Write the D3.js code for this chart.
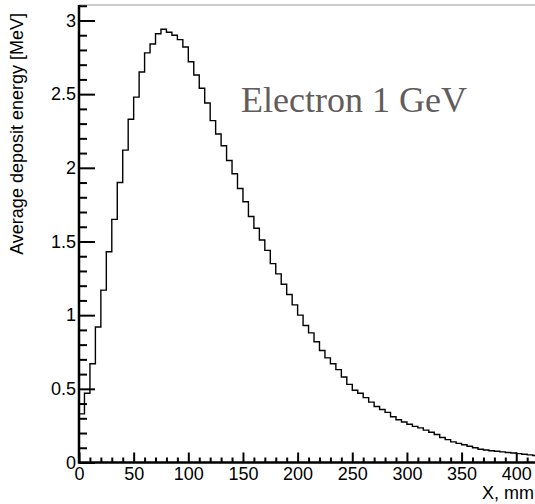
<!DOCTYPE html>
<html>
<head>
<meta charset="utf-8">
<script src="https://cdn.jsdelivr.net/npm/d3@7"></script>
<style>
  body { margin: 0; background: #fff; }
  svg { display: block; }
  text { font-family: "Liberation Sans", Arial, sans-serif; }
</style>
</head>
<body>
<svg id="canvas" width="535" height="504"></svg>
<script>
// histogram: 5 mm bins starting at 0
let binWidth = 5
let deposit = [
    0.33, 0.47, 0.67, 0.92, 1.17, 1.43, 1.65, 1.90, 2.12, 2.33,
    2.48, 2.65, 2.78, 2.84, 2.91, 2.94, 2.92, 2.90, 2.87, 2.82,
    2.72, 2.63, 2.54, 2.44, 2.32, 2.23, 2.15, 2.05, 1.96, 1.86,
    1.77, 1.67, 1.59, 1.51, 1.44, 1.35, 1.28, 1.21, 1.14, 1.07,
    1.00, 0.93, 0.88, 0.82, 0.76, 0.71, 0.67, 0.63, 0.58, 0.53,
    0.49, 0.47, 0.44, 0.41, 0.38, 0.36, 0.34, 0.31, 0.29, 0.275,
    0.26, 0.245, 0.235, 0.22, 0.205, 0.19, 0.17, 0.155, 0.14, 0.13,
    0.12, 0.11, 0.10, 0.09, 0.085, 0.08, 0.076, 0.072, 0.068, 0.064,
    0.06, 0.056, 0.052, 0.048
]
let xTicks = [0, 50, 100, 150, 200, 250, 300, 350, 400]
let yTicks = [0, 0.5, 1, 1.5, 2, 2.5, 3]
let xTitle = 'X, mm'
let yTitle = 'Average deposit energy [MeV]'
let label = 'Electron 1 GeV'

let canvas = d3.select('#canvas')

let x = d3.scaleLinear().domain([0, 420]).range([79, 538.1])
let y = d3.scaleLinear().domain([0, 3.105]).range([462.5, 5])

// frame top
canvas.append('line')
    .attr('x1', x(0)).attr('x2', 535)
    .attr('y1', y(3.105)).attr('y2', y(3.105))
    .attr('stroke', '#999').attr('stroke-width', 1)

// histogram as steps
let points = deposit.map((v, i) => [i * binWidth, v])
points.push([deposit.length * binWidth, deposit[deposit.length - 1]])
let line = d3.line()
    .x(d => x(d[0]))
    .y(d => y(d[1]))
    .curve(d3.curveStepAfter)
canvas.append('path')
    .datum(points)
    .attr('d', line)
    .attr('fill', 'none')
    .attr('stroke', '#000')
    .attr('stroke-width', 1.4)

// x axis
let xMinor = d3.range(0, 421, 10).filter(v => v % 50 !== 0)
canvas.append('g')
    .attr('transform', 'translate(0,' + y(0) + ')')
    .call(d3.axisBottom(x).tickValues(xMinor).tickSizeInner(-5).tickSizeOuter(0).tickFormat(''))
canvas.append('g')
    .attr('class', 'xaxis')
    .attr('transform', 'translate(0,' + y(0) + ')')
    .call(d3.axisBottom(x).tickValues(xTicks).tickSizeInner(-10).tickSizeOuter(0).tickPadding(5))

// y axis
let yMinor = d3.range(0, 3.101, 0.1).filter(v => Math.abs(v * 2 - Math.round(v * 2)) > 1e-6)
canvas.append('g')
    .attr('transform', 'translate(' + x(0) + ',0)')
    .call(d3.axisLeft(y).tickValues(yMinor).tickSizeInner(-8).tickSizeOuter(0).tickFormat(''))
canvas.append('g')
    .attr('transform', 'translate(' + x(0) + ',0)')
    .call(d3.axisLeft(y).tickValues(yTicks).tickSizeInner(-16).tickSizeOuter(0).tickPadding(3)
        .tickFormat(d => String(d)))

canvas.selectAll('.domain').remove()
canvas.selectAll('.tick line').attr('stroke', '#000').attr('stroke-width', 2)
canvas.selectAll('.tick text')
    .attr('fill', '#000')
    .style('font-size', '18px')
    .style('font-family', '"Liberation Sans", Arial, sans-serif')

// axis lines
canvas.append('line')
    .attr('x1', x(0)).attr('x2', 535)
    .attr('y1', y(0)).attr('y2', y(0))
    .attr('stroke', '#000').attr('stroke-width', 2.5)
canvas.append('line')
    .attr('x1', x(0)).attr('x2', x(0))
    .attr('y1', y(0) + 1.25).attr('y2', y(3.105))
    .attr('stroke', '#000').attr('stroke-width', 2.5)

// titles
canvas.append('text')
    .text(xTitle)
    .attr('x', 534).attr('y', 499)
    .attr('text-anchor', 'end')
    .style('font-size', '18px')

canvas.append('text')
    .text(yTitle)
    .attr('transform', 'translate(23,13) rotate(-90)')
    .attr('text-anchor', 'end')
    .style('font-size', '18px')

canvas.append('text')
    .text(label)
    .attr('x', 241).attr('y', 112)
    .attr('fill', '#625c5c')
    .style('font-family', '"Liberation Serif", "Times New Roman", serif')
    .style('font-size', '36px')
</script>
</body>
</html>
